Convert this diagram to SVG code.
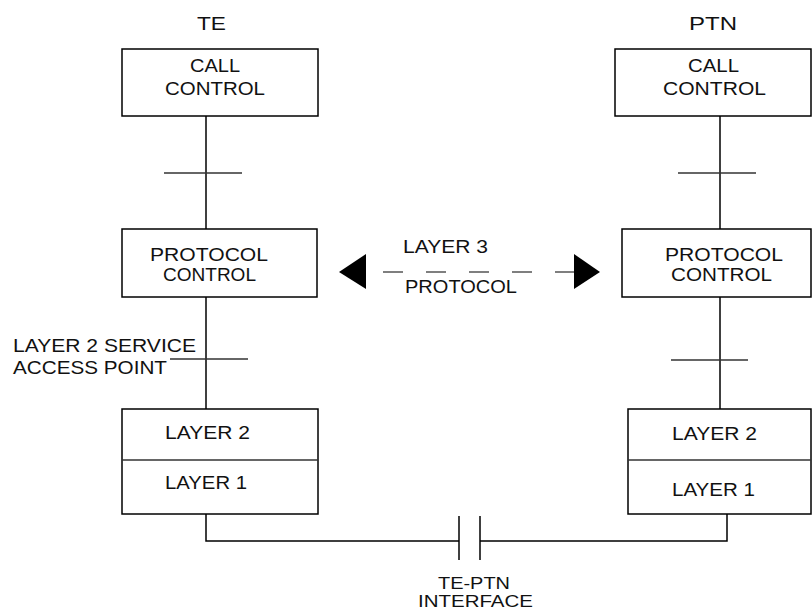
<svg xmlns="http://www.w3.org/2000/svg" width="812" height="610" viewBox="0 0 812 610">
<defs>
<style>
.box{fill:#fff;stroke:#000;stroke-width:1.5}
.ln{fill:none;stroke:#000;stroke-width:1.5}
.tick{fill:none;stroke:#333;stroke-width:1.5}
.dash{fill:none;stroke:#000;stroke-width:1.2;stroke-dasharray:20 23}
text{font-family:"Liberation Sans",Arial,sans-serif;font-size:18.5px;fill:#111}
.sm{font-size:17px}
</style>
</defs>
<rect width="812" height="610" fill="#fff"/>
<g id="connectors">
<line class="ln" x1="206" y1="116" x2="206" y2="229"/>
<line class="tick" x1="164" y1="173" x2="242" y2="173"/>
<line class="ln" x1="720" y1="116" x2="720" y2="229"/>
<line class="tick" x1="678" y1="173" x2="756" y2="173"/>
<line class="ln" x1="206" y1="297" x2="206" y2="409"/>
<line class="tick" x1="170" y1="359" x2="248" y2="359"/>
<line class="ln" x1="720" y1="297" x2="720" y2="409"/>
<line class="tick" x1="671" y1="360" x2="748" y2="360"/>
<polyline class="ln" points="206,514 206,541 459,541"/>
<polyline class="ln" points="480,541 727,541 727,514"/>
<line class="ln" x1="459" y1="516" x2="459" y2="560"/>
<line class="ln" x1="480" y1="516" x2="480" y2="560"/>
<line class="dash" x1="366" y1="272" x2="574" y2="272" stroke-dashoffset="-17"/>
<path d="M339,272 L366,254 L366,289 Z" fill="#000"/>
<path d="M600,272 L574,254 L574,289 Z" fill="#000"/>
</g>
<g id="label-te"><text x="197" y="30" textLength="29" lengthAdjust="spacingAndGlyphs">TE</text></g>
<g id="label-ptn"><text x="689" y="30" textLength="48" lengthAdjust="spacingAndGlyphs">PTN</text></g>
<g id="te-call-control">
<rect class="box" x="122" y="49" width="196" height="67"/>
<text x="190" y="72" textLength="50" lengthAdjust="spacingAndGlyphs">CALL</text>
<text x="165" y="95" textLength="100" lengthAdjust="spacingAndGlyphs">CONTROL</text>
</g>
<g id="ptn-call-control">
<rect class="box" x="615" y="49" width="196" height="67"/>
<text x="688" y="72" textLength="51" lengthAdjust="spacingAndGlyphs">CALL</text>
<text x="663" y="95" textLength="103" lengthAdjust="spacingAndGlyphs">CONTROL</text>
</g>
<g id="te-protocol-control">
<rect class="box" x="122" y="229" width="195" height="68"/>
<text x="150" y="261" textLength="118" lengthAdjust="spacingAndGlyphs">PROTOCOL</text>
<text x="163" y="281" textLength="93" lengthAdjust="spacingAndGlyphs">CONTROL</text>
</g>
<g id="ptn-protocol-control">
<rect class="box" x="622" y="229" width="189" height="68"/>
<text x="665" y="261" textLength="118" lengthAdjust="spacingAndGlyphs">PROTOCOL</text>
<text x="671" y="281" textLength="101" lengthAdjust="spacingAndGlyphs">CONTROL</text>
</g>
<g id="layer3-protocol">
<text x="403" y="253" textLength="85" lengthAdjust="spacingAndGlyphs">LAYER 3</text>
<text x="405" y="293" textLength="112" lengthAdjust="spacingAndGlyphs">PROTOCOL</text>
</g>
<g id="sap-label">
<text x="13" y="352" textLength="183" lengthAdjust="spacingAndGlyphs">LAYER 2 SERVICE</text>
<text x="13" y="374" textLength="154" lengthAdjust="spacingAndGlyphs">ACCESS POINT</text>
</g>
<g id="te-layers">
<rect class="box" x="122" y="409" width="196" height="105"/>
<line x1="122" y1="460" x2="318" y2="460" stroke="#333" stroke-width="1.5"/>
<text x="165" y="439" textLength="85" lengthAdjust="spacingAndGlyphs">LAYER 2</text>
<text x="165" y="489" textLength="82" lengthAdjust="spacingAndGlyphs">LAYER 1</text>
</g>
<g id="ptn-layers">
<rect class="box" x="628" y="409" width="183" height="105"/>
<line x1="628" y1="460" x2="811" y2="460" stroke="#333" stroke-width="1.5"/>
<text x="672" y="440" textLength="85" lengthAdjust="spacingAndGlyphs">LAYER 2</text>
<text x="672" y="496" textLength="83" lengthAdjust="spacingAndGlyphs">LAYER 1</text>
</g>
<g id="interface-label">
<text class="sm" x="438" y="589" textLength="72" lengthAdjust="spacingAndGlyphs">TE-PTN</text>
<text class="sm" x="418" y="607" textLength="115" lengthAdjust="spacingAndGlyphs">INTERFACE</text>
</g>
</svg>
